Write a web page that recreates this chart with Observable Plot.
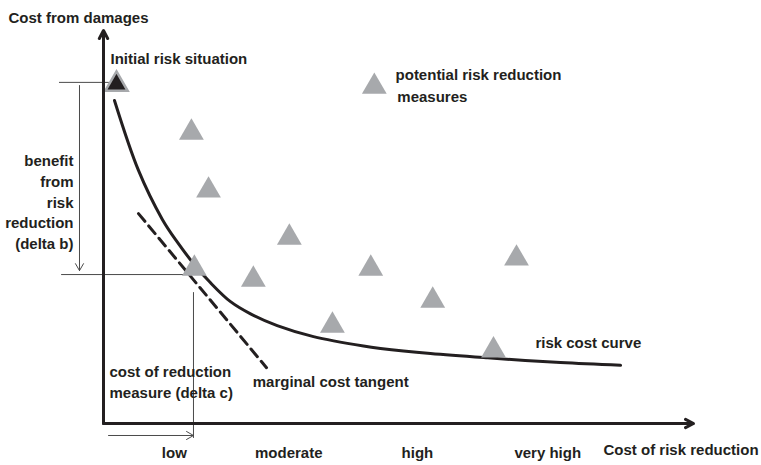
<!DOCTYPE html>
<html><head><meta charset="utf-8">
<script src="https://cdn.jsdelivr.net/npm/d3@7"></script>
<script src="https://cdn.jsdelivr.net/npm/@observablehq/plot@0.6"></script>
<style>html,body{margin:0;padding:0;background:#fff;overflow:hidden}</style>
</head><body><div id="chart"></div>
<script>
// Risk cost curve (cost of risk reduction -> cost from damages), abstract units 0..100
const curveX = [1.86, 5.93, 9.95, 12.49, 15.31, 18.14, 21.53, 24.92, 29.44, 35.59, 44.07, 46.95, 55.42, 65.08, 77.46, 87.63];
const curveY = [82.2, 64.4, 52.0, 46.2, 40.6, 35.8, 31.0, 27.9, 24.9, 22.1, 19.7, 19.1, 17.8, 16.7, 15.5, 14.8];

// Marginal cost tangent (end points)
const tangentX = [5.93, 27.63];
const tangentY = [53.4, 14.2];

// Potential risk reduction measures
const measureX = [14.9, 17.8, 31.5, 15.4, 25.4, 45.3, 55.8, 38.8, 66.1, 70.0];
const measureY = [74.0, 59.3, 47.3, 39.4, 36.6, 39.4, 31.3, 24.9, 18.6, 42.0];

// Initial risk situation
const initialX = [2.2];
const initialY = [86.3];

// Legend symbol
const legendX = [45.9];
const legendY = [85.7];

// Reference levels
const initialLevel = 86.8;   // damages at initial situation
const measureLevel = 37.9;   // damages after chosen measure
const measureCost = 15.25;   // cost of chosen measure

// x-axis tick labels
const tickPositions = [12.0, 31.4, 53.2, 75.3];
const tickLabels = ["low", "moderate", "high", "very high"];

// Annotations
const labelText = ["Cost from damages", "Initial risk situation", "potential risk reduction", "measures",
  "benefit\nfrom\nrisk\nreduction\n(delta b)", "cost of reduction\nmeasure (delta c)",
  "marginal cost tangent", "risk cost curve", "Cost of risk reduction"];
const labelX = [-16.1, 1.19, 49.5, 49.8, -5.08, 1.02, 25.3, 73.2, 84.75];
const labelY = [102.0, 91.6, 87.3, 81.9, 44.5, 6.6, 9.4, 19.1, -8.1];
const labelAnchor = ["start", "start", "start", "start", "end", "start", "start", "start", "start"];

const ink = "#231f20";
const gray = "#a7a9ac";
const thin = "#4a4a4a";

const pts = (xs, ys) => xs.map((x, i) => ({x, y: ys[i]}));
const labels = labelText.map((t, i) => ({t, x: labelX[i], y: labelY[i], a: labelAnchor[i]}));
const tickMap = new Map(tickPositions.map((p, i) => [p, tickLabels[i]]));

const font = "'Liberation Sans', Arial, Helvetica, sans-serif";
const fs = 15;

const chart = Plot.plot({
  width: 761, height: 465,
  marginLeft: 103, marginRight: 68, marginTop: 30, marginBottom: 42,
  x: {domain: [0, 100]},
  y: {domain: [0, 100], axis: null},
  style: {fontFamily: font, fontSize: fs + "px", color: ink, background: "#fff", overflow: "visible"},
  marks: [
    // thin reference lines
    Plot.ruleY([initialLevel], {x1: -7.46, x2: 1.0, stroke: thin, strokeWidth: 1}),
    Plot.ruleY([measureLevel], {x1: -7.1, x2: measureCost, stroke: thin, strokeWidth: 1}),
    Plot.ruleX([measureCost], {y1: 33.3, y2: -3.8, stroke: thin, strokeWidth: 1}),
    Plot.arrow([{x: -4.07, y1: 86.0, y2: measureLevel + 1}], {x: "x", y1: "y1", y2: "y2", stroke: thin, strokeWidth: 1, headLength: 12, headAngle: 60}),
    Plot.arrow([{x1: 0.85, x2: measureCost, y: -3.05}], {x1: "x1", x2: "x2", y: "y", stroke: thin, strokeWidth: 1, headLength: 12, headAngle: 60}),
    // curve and tangent
    Plot.line(pts(curveX, curveY), {x: "x", y: "y", curve: "catmull-rom", stroke: ink, strokeWidth: 3}),
    Plot.line(pts(tangentX, tangentY), {x: "x", y: "y", stroke: ink, strokeWidth: 3, strokeDasharray: "10,6"}),
    // measures
    Plot.dot(pts(measureX, measureY), {x: "x", y: "y", symbol: "triangle", r: 9.2, fill: gray, stroke: "none"}),
    Plot.dot(pts(legendX, legendY), {x: "x", y: "y", symbol: "triangle", r: 9.2, fill: gray, stroke: "none"}),
    Plot.dot(pts(initialX, initialY), {x: "x", y: "y", symbol: "triangle", r: 8.3, fill: ink, stroke: gray, strokeWidth: 2.5}),
    // axes with arrow heads
    Plot.arrow([{x1: 0, y1: 0, x2: 0, y2: 100}], {x1: "x1", y1: "y1", x2: "x2", y2: "y2", stroke: ink, strokeWidth: 3, headLength: 4.5, headAngle: 55}),
    Plot.arrow([{x1: 0, y1: 0, x2: 100, y2: 0}], {x1: "x1", y1: "y1", x2: "x2", y2: "y2", stroke: ink, strokeWidth: 3, headLength: 4.5, headAngle: 55}),
    Plot.axisX({ticks: tickPositions, tickFormat: d => tickMap.get(d), tickSize: 0, tickPadding: 24, label: null,
      fontWeight: "bold", fontSize: fs, fill: ink}),
    // annotations
    Plot.text(labels.filter(d => d.a === "start"), {x: "x", y: "y", text: "t", textAnchor: "start", lineAnchor: "bottom", lineHeight: 1.4,
      fontWeight: "bold", fontSize: fs, fill: ink}),
    Plot.text(labels.filter(d => d.a === "end"), {x: "x", y: "y", text: "t", textAnchor: "end", lineAnchor: "bottom", lineHeight: 1.37,
      fontWeight: "bold", fontSize: fs, fill: ink})
  ]
});
document.getElementById("chart").append(chart);
</script>
</body></html>
